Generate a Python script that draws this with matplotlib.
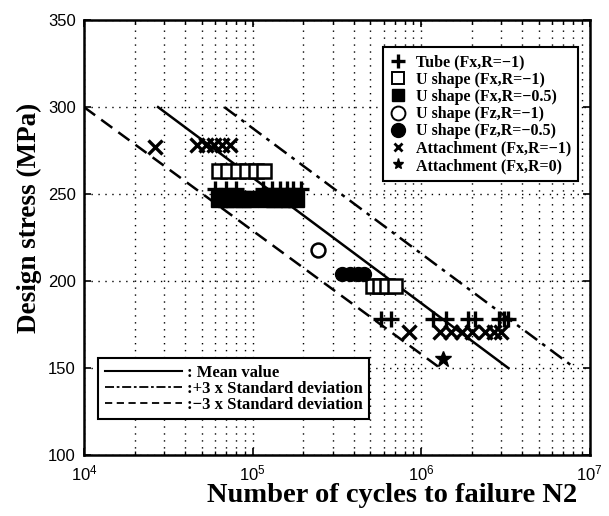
import matplotlib
matplotlib.use("Agg")
import matplotlib.pyplot as plt
from matplotlib.lines import Line2D
from matplotlib.ticker import LogLocator, NullFormatter, FixedLocator

# ---- data ----
tube_N = [6.0e4, 7.0e4, 8.0e4, 1.15e5, 1.3e5, 1.45e5, 1.6e5, 1.75e5, 1.95e5,
          5.8e5, 6.6e5, 1.17e6, 1.4e6, 1.9e6, 2.1e6, 2.9e6, 3.1e6, 3.3e6]
tube_S = [253, 253, 253, 253, 253, 253, 253, 253, 253,
          178, 178, 178, 178, 178, 178, 178, 178, 178]

usq_open_N = [6.3e4, 7.2e4, 8.2e4, 9.3e4, 1.05e5, 1.17e5, 5.2e5, 5.7e5, 6.3e5, 7.0e5]
usq_open_S = [263, 263, 263, 263, 263, 263, 197, 197, 197, 197]

usq_fill_N = [6.3e4, 7.0e4, 7.8e4, 8.8e4, 9.6e4, 1.2e5, 1.35e5, 1.5e5, 1.65e5, 1.8e5]
usq_fill_S = [247, 247, 247, 247, 247, 247, 247, 247, 247, 247]

uc_open_N = [2.46e5]
uc_open_S = [218]

uc_fill_N = [3.4e5, 3.8e5, 4.2e5, 4.6e5]
uc_fill_S = [204, 204, 204, 204]

att_x_N = [2.65e4, 4.7e4, 5.3e4, 5.9e4, 6.6e4, 7.3e4,
           8.5e5, 1.3e6, 1.5e6, 1.75e6, 2.0e6, 2.4e6, 2.7e6, 3.0e6]
att_x_S = [277, 278, 278, 278, 278, 278,
           171, 171, 171, 171, 171, 171, 171, 171]

att_star_N = [1.35e6]
att_star_S = [155]

mean_N = [2.75e4, 3.3e6]
mean_S = [300, 150]
plus3_N = [6.8e4, 8.2e6]
plus3_S = [300, 150]
minus3_N = [1.0e4, 1.3e6]
minus3_S = [300, 150]

y_ticks = [100, 150, 200, 250, 300, 350]

# ---- figure ----
fig = plt.figure(figsize=(6.09, 5.16), dpi=100)
ax = fig.add_axes([0.138, 0.118, 0.830, 0.843])
ax.set_xscale("log")
ax.set_xlim(1e4, 1e7)
ax.set_ylim(100, 350)

ax.plot(mean_N, mean_S, color="black", lw=1.8, ls="-")
ax.plot(plus3_N, plus3_S, color="black", lw=1.8, ls=(0, (6, 2.5, 1.5, 2.5)))
ax.plot(minus3_N, minus3_S, color="black", lw=1.8, ls=(0, (5.5, 3)))

ax.plot(tube_N, tube_S, ls="none", marker="+", ms=12, mew=2.4, color="black")
ax.plot(usq_open_N, usq_open_S, ls="none", marker="s", ms=10, mew=1.8,
        mfc="white", mec="black")
ax.plot(usq_fill_N, usq_fill_S, ls="none", marker="s", ms=12, color="black")
ax.plot(uc_open_N, uc_open_S, ls="none", marker="o", ms=10, mew=1.8,
        mfc="none", mec="black")
ax.plot(uc_fill_N, uc_fill_S, ls="none", marker="o", ms=10, color="black")
ax.plot(att_x_N, att_x_S, ls="none", marker="x", ms=10, mew=2.4, color="black")
ax.plot(att_star_N, att_star_S, ls="none", marker="*", ms=12, color="black")

# grid
ax.grid(True, which="major", ls=(0, (1, 4)), color="black", lw=1.0)
ax.grid(True, which="minor", axis="x", ls=(0, (1, 4)), color="black", lw=1.0)
ax.xaxis.set_major_locator(LogLocator(base=10, numticks=10))
ax.xaxis.set_minor_locator(LogLocator(base=10, subs=range(2, 10), numticks=100))
ax.xaxis.set_minor_formatter(NullFormatter())
ax.yaxis.set_major_locator(FixedLocator(y_ticks))

for s in ax.spines.values():
    s.set_linewidth(1.8)
ax.tick_params(axis="both", which="major", direction="in", length=5, width=1.2,
               labelsize=12, pad=6)
ax.tick_params(axis="x", which="minor", direction="in", length=3, width=1.0)
ax.tick_params(top=True, right=True, which="both")
for lab in ax.get_xticklabels() + ax.get_yticklabels():
    lab.set_family("Liberation Sans")

serif = "Liberation Serif"
ax.set_xlabel("Number of cycles to failure N2", fontsize=20.5, fontweight="bold",
              family=serif, labelpad=0)
ax.xaxis.label.set_x(0.61)
ax.set_ylabel("Design stress (MPa)", fontsize=19.5, fontweight="bold",
              family=serif, labelpad=4)
ax.yaxis.label.set_y(0.545)

# upper legend
h1 = [
    Line2D([], [], ls="none", marker="+", ms=10, mew=2.4, color="black"),
    Line2D([], [], ls="none", marker="s", ms=9, mew=1.4, mfc="white", mec="black"),
    Line2D([], [], ls="none", marker="s", ms=9, color="black"),
    Line2D([], [], ls="none", marker="o", ms=10, mew=1.4, mfc="white", mec="black"),
    Line2D([], [], ls="none", marker="o", ms=10, color="black"),
    Line2D([], [], ls="none", marker="x", ms=6, mew=2, color="black"),
    Line2D([], [], ls="none", marker="*", ms=8, color="black"),
]
l1 = ["Tube (Fx,R=\u22121)", "U shape (Fx,R=\u22121)", "U shape (Fx,R=\u22120.5)",
      "U shape (Fz,R=\u22121)", "U shape (Fz,R=\u22120.5)",
      "Attachment (Fx,R=\u22121)", "Attachment (Fx,R=0)"]
leg1 = ax.legend(h1, l1, loc="upper left", bbox_to_anchor=(0.591, 0.938),
                 borderaxespad=0,
                 prop={"family": serif, "weight": "bold", "size": 11.5},
                 frameon=True, fancybox=False, edgecolor="black",
                 framealpha=1, handlelength=1.0, handletextpad=0.6,
                 labelspacing=0.08, borderpad=0.45)
leg1.get_frame().set_linewidth(1.5)
ax.add_artist(leg1)

# lower legend
h2 = [
    Line2D([], [], color="black", lw=1.5, ls="-"),
    Line2D([], [], color="black", lw=1.3, ls=(0, (5, 1.5, 1.5, 1.5))),
    Line2D([], [], color="black", lw=1.3, ls=(0, (4, 2.5))),
]
l2 = [": Mean value", ":+3 x Standard deviation", ":\u22123 x Standard deviation"]
leg2 = ax.legend(h2, l2, loc="upper left", bbox_to_anchor=(0.028, 0.223),
                 borderaxespad=0,
                 prop={"family": serif, "weight": "bold", "size": 12},
                 frameon=True, fancybox=False, edgecolor="black",
                 framealpha=1, handlelength=4.6, handletextpad=0.3,
                 labelspacing=0.0, borderpad=0.4)
leg2.get_frame().set_linewidth(1.5)

fig.savefig("out.png", dpi=100)
